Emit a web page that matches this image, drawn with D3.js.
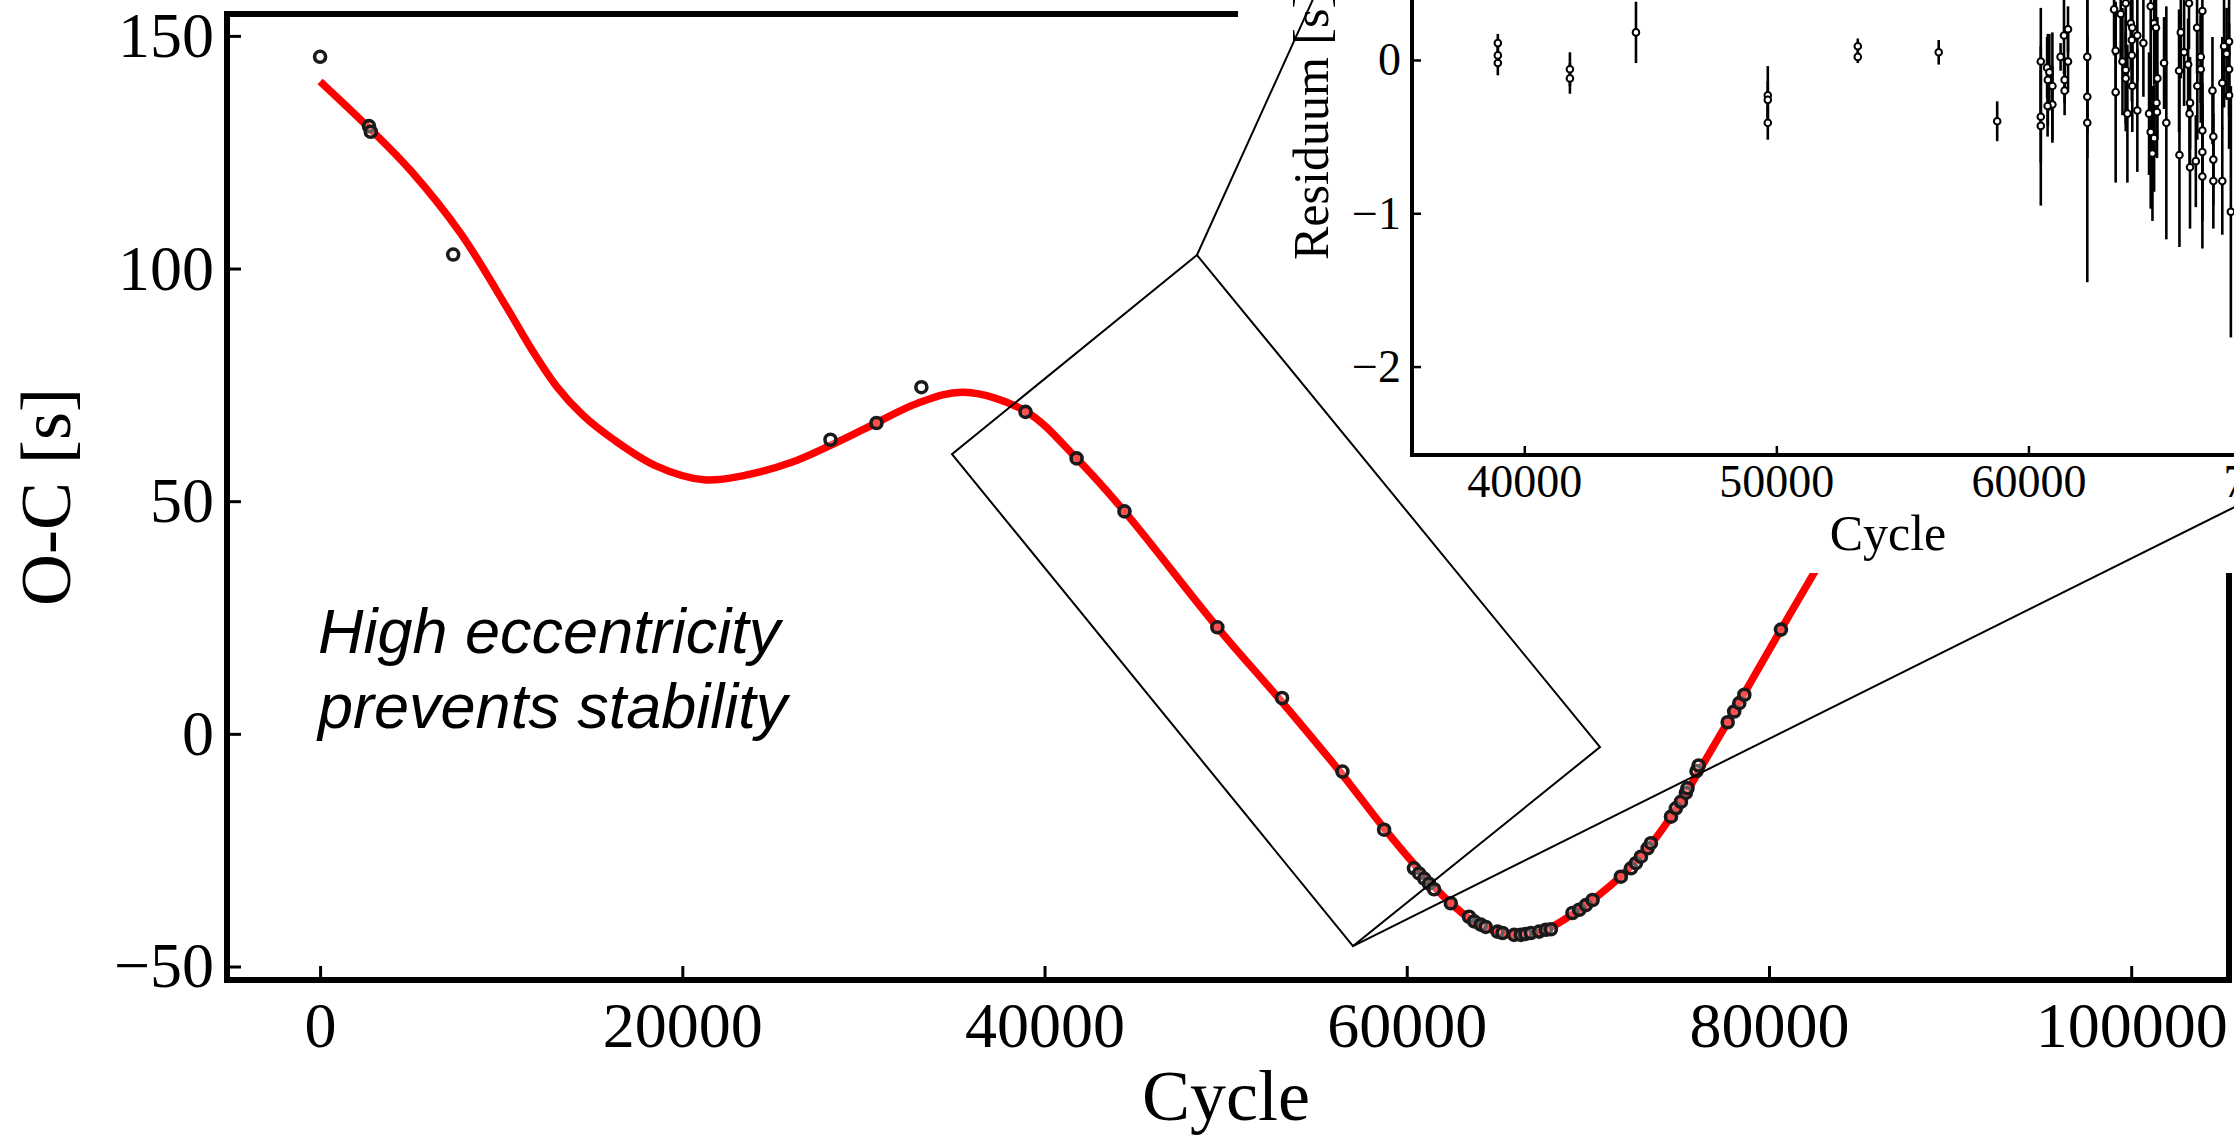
<!DOCTYPE html>
<html>
<head>
<meta charset="utf-8">
<script src="https://cdn.jsdelivr.net/npm/d3@7"></script>
<style>
  body { margin: 0; background: #fff; }
  svg { display: block; }
</style>
</head>
<body>
<div id="chart"></div>
<script>
// O-C timings of the main plot (cycle, seconds)
var cycles = [0, 2700, 2800, 7350, 28180, 30720, 33200, 38950, 41770, 44414, 49542, 53115, 56450, 58750,
  60400, 60680, 60960, 61230, 61510, 62430, 63440, 63720, 64090, 64360, 65010, 65290,
  65930, 66300, 66570, 66850, 67310, 67680, 67960, 69150, 69520, 69890, 70260,
  71820, 72380, 72650, 72930, 73300, 73480, 74590, 74860, 75140, 75410, 75500,
  76000, 76120, 77720, 78080, 78360, 78640, 80660];
var ocValues = [145.5, 130.6, 129.4, 103, 63.2, 66.8, 74.5, 69.2, 59.2, 47.8, 22.9, 7.7, -8.1, -20.6,
  -28.9, -30.0, -31.1, -32.2, -33.4, -36.4, -39.3, -40.3, -41.0, -41.5, -42.5, -42.8,
  -43.2, -43.2, -43.0, -42.8, -42.5, -42.1, -42.0, -38.5, -37.8, -36.8, -35.7,
  -30.7, -28.9, -27.8, -26.4, -24.6, -23.5, -17.8, -16.0, -14.6, -12.7, -11.7,
  -8.0, -6.8, 2.5, 4.8, 6.6, 8.4, 22.4];

// model curve
var fitCycles = [0, 2760, 5010, 7770, 10330, 11700, 13090, 14500, 16180, 18540, 21200, 23500, 26000,
  28180, 30200, 32960, 35540, 38970, 41770, 44410, 49540, 53120, 56450, 58750, 61000, 62430,
  64000, 66000, 67500, 69500, 71800, 73300, 75200, 76060, 78000, 80660, 83000];
var fitValues = [140.2, 130, 121, 107.5, 91.5, 82.5, 74.5, 68.5, 63.3, 57.6, 54.6, 55.6, 58.3,
  62.0, 65.8, 71.0, 73.4, 69.3, 59.2, 47.8, 22.9, 6.8, -8.8, -20.3, -30.6, -36.4,
  -41.0, -43.2, -42.4, -37.8, -30.7, -24.6, -14.2, -8.5, 4.4, 22.4, 38];

// residuals shown in the inset
var resCycles = [38950, 38950, 38950, 41810, 41810, 44430, 49660, 49660, 49660, 53230, 53230, 56440, 58760,
  60490, 60490, 60490, 60740, 60830, 60770, 60950, 60950, 60760,
  61275, 61410, 61570, 61570, 61435, 61435,
  62335, 62335, 62335,
  63397, 63460, 63460, 63660, 63730, 63860, 63860, 63860, 63925,
  64060, 64120, 64100, 64100, 64120, 64320, 64320, 64560, 64785, 64850, 64850, 64920, 64985, 64985,
  65060, 65115, 65080, 65100, 65380, 65470,
  66045, 66175, 66335, 65975, 65990, 66370, 66410, 66390, 66410, 66640, 66700, 66690, 66835, 66835,
  66900, 66900, 66900, 66900, 67300, 67335, 67335, 67335, 67690, 67690, 67760, 67860, 67960, 67960, 67960, 68030];
var resValues = [0.11, 0.03, -0.02, -0.06, -0.12, 0.18, -0.23, -0.26, -0.41, 0.09, 0.02, 0.05, -0.40,
  -0.01, -0.37, -0.43, -0.05, -0.08, -0.13, -0.17, -0.29, -0.30,
  0.02, 0.16, 0.20, -0.01, -0.13, -0.20,
  0.02, -0.24, -0.41,
  0.33, 0.06, -0.21, 0.30, -0.01, -0.065, -0.12, 0.37, -0.35,
  0.24, 0.21, 0.13, 0.03, -0.17, 0.16, -0.33, 0.11, -0.35, 0.35, -0.47, -0.61, -0.51, 0.24,
  0.21, -0.12, -0.28, -0.34, -0.02, -0.41,
  0.18, 0.05, -0.03, -0.07, -0.62, 0.37, -0.28, -0.35, -0.70, -0.66, -0.17, 0.21, 0.02, -0.06,
  0.32, -0.46, -0.60, -0.76, -0.20, -0.50, -0.65, -0.79, -0.15, -0.79, 0.09, 0.04, -0.06, 0.12, -0.23, -0.99];
var resErrors = [0.06, 0.07, 0.08, 0.11, 0.10, 0.20, 0.19, 0.12, 0.11, 0.05, 0.04, 0.08, 0.13,
  0.35, 0.30, 0.52, 0.20, 0.25, 0.30, 0.35, 0.25, 0.20,
  0.09, 0.25, 0.15, 0.20, 0.15, 0.16,
  0.50, 0.40, 1.04,
  0.30, 0.30, 0.59, 0.30, 0.35, 0.40, 0.30, 0.30, 0.45,
  0.30, 0.35, 0.30, 0.30, 0.30, 0.30, 0.40, 0.35, 0.40, 0.40, 0.50, 0.44, 0.35, 0.40,
  0.30, 0.40, 0.35, 0.30, 0.30, 0.76,
  0.30, 0.35, 0.30, 0.40, 0.60, 0.30, 0.30, 0.35, 0.40, 0.30, 0.35, 0.30, 0.30, 0.35,
  0.40, 0.40, 0.45, 0.47, 0.35, 0.30, 0.30, 0.31, 0.30, 0.35, 0.40, 0.30, 0.30, 0.30, 0.35, 0.82];

var xTicks = [0, 20000, 40000, 60000, 80000, 100000];
var yTicks = [-50, 0, 50, 100, 150];
var insetXTicks = [40000, 50000, 60000, 70000];
var insetYTicks = [-2, -1, 0];
var annotation = ["High eccentricity", "prevents stability"];

// zoom box corners (cycle, O-C)
var boxCycles = [48418, 70670, 57032, 34890];
var boxValues = [102.9, -2.84, -45.6, 60.1];

var serif = "'Liberation Serif', 'Times New Roman', serif";
var width = 2234, height = 1137;

var svg = d3.select("#chart")
    .append("svg")
    .attr("width", width)
    .attr("height", height)
    .style("background", "#fff");

// main scales
var x = d3.scaleLinear().domain([-5140, 105400]).range([227, 2229]);
var y = d3.scaleLinear().domain([-52.9, 154.7]).range([980, 14]);

// X axis
var gx = svg.append("g")
    .attr("transform", "translate(0," + y.range()[0] + ")")
    .call(d3.axisBottom(x).tickValues(xTicks).tickFormat(d3.format("d")).tickSize(-14).tickPadding(22));
// Y axis
var gy = svg.append("g")
    .attr("transform", "translate(" + x.range()[0] + ",0)")
    .call(d3.axisLeft(y).tickValues(yTicks).tickFormat(d3.format("d")).tickSize(-14).tickPadding(13));

[gx, gy].forEach(function(g) {
    g.select(".domain").remove();
    g.attr("font-family", serif).attr("font-size", 64);
    g.selectAll(".tick line").attr("stroke", "#000").attr("stroke-width", 3);
    g.selectAll(".tick text").attr("fill", "#000");
});

// frame
svg.append("rect")
    .attr("x", x.range()[0])
    .attr("y", y.range()[1])
    .attr("width", x.range()[1] - x.range()[0])
    .attr("height", y.range()[0] - y.range()[1])
    .attr("fill", "none")
    .attr("stroke", "#000")
    .attr("stroke-width", 6);

// axis titles
svg.append("text")
    .attr("x", 1226).attr("y", 1120)
    .attr("text-anchor", "middle")
    .attr("font-family", serif).attr("font-size", 72)
    .text("Cycle");
svg.append("text")
    .attr("transform", "translate(70,497) rotate(-90)")
    .attr("text-anchor", "middle")
    .attr("font-family", serif).attr("font-size", 72)
    .text("O-C [s]");

// fitted curve
var fit = fitCycles.map(function(c, i) { return [c, fitValues[i]]; });
svg.append("path")
    .datum(fit)
    .attr("fill", "none")
    .attr("stroke", "#ff0000")
    .attr("stroke-width", 7.5)
    .attr("d", d3.line()
        .x(function(d) { return x(d[0]); })
        .y(function(d) { return y(d[1]); })
        .curve(d3.curveCatmullRom.alpha(0.5)));

// data points
svg.selectAll("circle.oc")
    .data(cycles)
    .enter()
    .append("circle")
    .attr("class", "oc")
    .attr("cx", function(d) { return x(d); })
    .attr("cy", function(d, i) { return y(ocValues[i]); })
    .attr("r", 5.5)
    .attr("fill", "rgba(255,255,255,0.3)")
    .attr("stroke", "#1a1a1a")
    .attr("stroke-width", 3.6);

// annotation
svg.append("g")
    .selectAll("text")
    .data(annotation)
    .enter()
    .append("text")
    .attr("x", 318)
    .attr("y", function(d, i) { return 653 + i * 75; })
    .attr("font-family", "'Liberation Sans', Arial, sans-serif")
    .attr("font-style", "italic")
    .attr("font-size", 63)
    .text(function(d) { return d; });

// Inset: residuals
var ix = d3.scaleLinear().domain([35545, 72320]).range([1412, 2339]);
var iy = d3.scaleLinear().domain([-2.577, 1.82]).range([455, -219]);

var inset = svg.append("g");
inset.append("rect")
    .attr("x", ix.range()[0] - 174)
    .attr("y", -400)
    .attr("width", 1200)
    .attr("height", iy.range()[0] + 118 + 400)
    .attr("fill", "#fff");

var igx = inset.append("g")
    .attr("transform", "translate(0," + iy.range()[0] + ")")
    .call(d3.axisBottom(ix).tickValues(insetXTicks).tickFormat(d3.format("d")).tickSize(-9).tickPadding(9));
var igy = inset.append("g")
    .attr("transform", "translate(" + ix.range()[0] + ",0)")
    .call(d3.axisLeft(iy).tickValues(insetYTicks).tickFormat(d3.format("d")).tickSize(-9).tickPadding(11));
[igx, igy].forEach(function(g) {
    g.select(".domain").remove();
    g.attr("font-family", serif).attr("font-size", 46);
    g.selectAll(".tick line").attr("stroke", "#000").attr("stroke-width", 2.5);
    g.selectAll(".tick text").attr("fill", "#000");
});

inset.append("rect")
    .attr("x", ix.range()[0])
    .attr("y", iy.range()[1])
    .attr("width", ix.range()[1] - ix.range()[0])
    .attr("height", iy.range()[0] - iy.range()[1])
    .attr("fill", "none")
    .attr("stroke", "#000")
    .attr("stroke-width", 4);

inset.append("text")
    .attr("x", 1888).attr("y", 550)
    .attr("text-anchor", "middle")
    .attr("font-family", serif).attr("font-size", 50)
    .text("Cycle");
inset.append("text")
    .attr("transform", "translate(1328,260) rotate(-90)")
    .attr("font-family", serif).attr("font-size", 50)
    .text("Residuum [s]");

// error bars
inset.selectAll("line.err")
    .data(resCycles)
    .enter()
    .append("line")
    .attr("class", "err")
    .attr("x1", function(d) { return ix(d); })
    .attr("x2", function(d) { return ix(d); })
    .attr("y1", function(d, i) { return iy(resValues[i] - resErrors[i]); })
    .attr("y2", function(d, i) { return iy(resValues[i] + resErrors[i]); })
    .attr("stroke", "#000")
    .attr("stroke-width", 2.6);

inset.selectAll("circle.res")
    .data(resCycles)
    .enter()
    .append("circle")
    .attr("class", "res")
    .attr("cx", function(d) { return ix(d); })
    .attr("cy", function(d, i) { return iy(resValues[i]); })
    .attr("r", 3.3)
    .attr("fill", "#fff")
    .attr("stroke", "#000")
    .attr("stroke-width", 2);

// zoom box and connector lines
var box = boxCycles.map(function(c, i) { return [x(c), y(boxValues[i])]; });
svg.append("path")
    .attr("d", d3.line()(box) + "Z")
    .attr("fill", "none")
    .attr("stroke", "#000")
    .attr("stroke-width", 2);

svg.append("line")
    .attr("x1", box[0][0]).attr("y1", box[0][1])
    .attr("x2", ix.range()[0]).attr("y2", iy.range()[1])
    .attr("stroke", "#000").attr("stroke-width", 2);
svg.append("line")
    .attr("x1", box[2][0]).attr("y1", box[2][1])
    .attr("x2", ix.range()[1]).attr("y2", iy.range()[0])
    .attr("stroke", "#000").attr("stroke-width", 2);
</script>
</body>
</html>
